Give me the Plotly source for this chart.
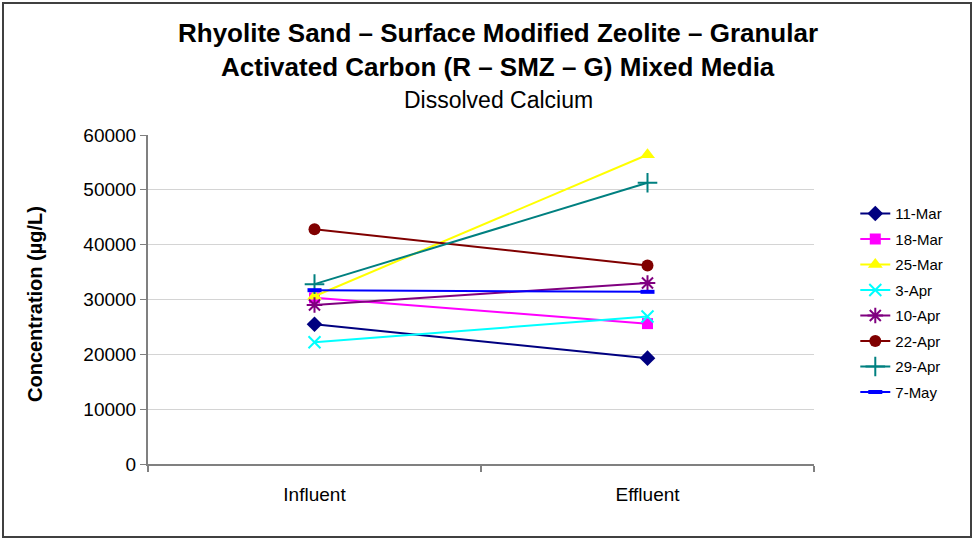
import plotly.graph_objects as go

categories = ['Influent', 'Effluent']
dates = ['11-Mar', '18-Mar', '25-Mar', '3-Apr', '10-Apr', '22-Apr', '29-Apr', '7-May']
values = {
    '11-Mar': [25500, 19300],
    '18-Mar': [30300, 25600],
    '25-Mar': [30600, 56400],
    '3-Apr': [22200, 26900],
    '10-Apr': [29000, 33000],
    '22-Apr': [42800, 36200],
    '29-Apr': [32800, 51300],
    '7-May': [31700, 31400],
}
colors = ['#000080', '#FF00FF', '#FFFF00', '#00FFFF', '#800080', '#800000', '#008080', '#0000FF']
symbols = ['diamond', 'square', 'triangle-up', 'x-thin-open', 'asterisk-open', 'circle', 'cross-thin-open', 'line-ew-open']
sizes = [12, 11, 13, 12, 13, 12, 14, 10]

fnt = 'Arial, Liberation Sans, sans-serif'

fig = go.Figure()
for i, d in enumerate(dates):
    open_sym = symbols[i].endswith('-open')
    fig.add_trace(go.Scatter(
        x=categories, y=values[d], name=d, mode='lines+markers',
        legendgroup=d,
        line=dict(color=colors[i], width=2),
        marker=dict(symbol=symbols[i], size=sizes[i], color=colors[i],
                    line=dict(color=colors[i], width=(4 if i == 7 else 2) if open_sym else 0)),
    ))

fig.update_layout(
    width=974, height=539,
    margin=dict(l=148, r=160, t=135, b=75),
    paper_bgcolor='white', plot_bgcolor='white',
    font=dict(family=fnt, color='black'),
    showlegend=True,
    legend=dict(x=1.062, y=0.49, xanchor='left', yanchor='middle',
                font=dict(size=15, family=fnt), tracegroupgap=3,
                bgcolor='rgba(0,0,0,0)'),
    xaxis=dict(type='category', range=[-0.5, 1.5], tickson='boundaries',
               ticks='outside', ticklen=6,
               tickcolor='#808080', tickwidth=2, showgrid=False,
               showline=True, linecolor='#808080', linewidth=2,
               tickfont=dict(size=19), ticklabelstandoff=12),
    yaxis=dict(range=[0, 60000], dtick=10000, ticks='outside', ticklen=6,
               tickcolor='#808080', tickwidth=1, showgrid=True,
               gridcolor='#D4D4D4', gridwidth=1, zeroline=False,
               showline=True, linecolor='#808080', linewidth=2,
               tickfont=dict(size=19), tickformat='d'),
    annotations=[
        dict(text='<b>Rhyolite Sand – Surface Modified Zeolite – Granular</b>',
             xref='paper', yref='paper', x=(498 - 148) / 666, y=(464 - 33) / 329,
             showarrow=False, font=dict(size=26), xanchor='center', yanchor='middle'),
        dict(text='<b>Activated Carbon (R – SMZ – G) Mixed Media</b>',
             xref='paper', yref='paper', x=(498 - 148) / 666, y=(464 - 67) / 329,
             showarrow=False, font=dict(size=26), xanchor='center', yanchor='middle'),
        dict(text='Dissolved Calcium',
             xref='paper', yref='paper', x=(498 - 148) / 666, y=(464 - 100) / 329,
             showarrow=False, font=dict(size=23), xanchor='center', yanchor='middle'),
        dict(text='<b>Concentration (µg/L)</b>', textangle=-90,
             xref='paper', yref='paper', x=(35 - 148) / 666, y=(464 - 304) / 329,
             showarrow=False, font=dict(size=20), xanchor='center', yanchor='middle'),
    ],
    shapes=[dict(type='rect', xref='paper', yref='paper',
                 x0=(3 - 148) / 666, x1=(971 - 148) / 666,
                 y0=(464 - 537) / 329, y1=(464 - 3) / 329,
                 line=dict(color='#404040', width=2))],
)

fig.write_html('out.html', config={'displayModeBar': False},
               post_script="document.body.style.margin='0px';")
